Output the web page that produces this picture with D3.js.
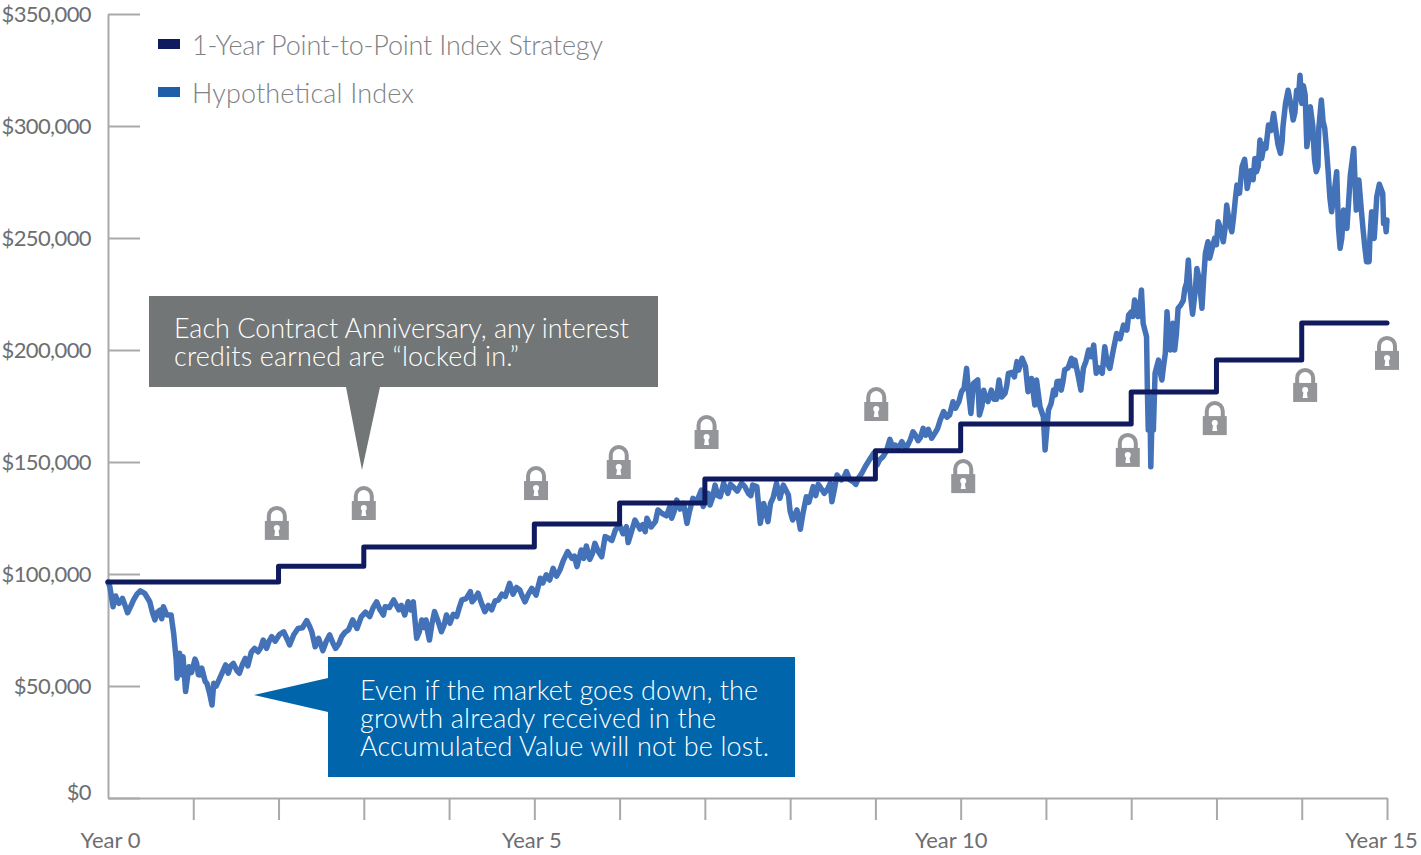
<!DOCTYPE html>
<html>
<head>
<meta charset="utf-8">
<script src="https://cdn.jsdelivr.net/npm/d3@7"></script>
<style>
  html, body { margin: 0; padding: 0; background: #fff; overflow: hidden; }
  text { font-family: Lato, "Open Sans", sans-serif; font-weight: 300; }
  .axis path, .axis line { stroke: #a7a9ac; stroke-width: 2; }
  .axis text { fill: #6d6e71; font-size: 22px; font-weight: 400; }
  .y-axis text { letter-spacing: -0.6px; }
</style>
</head>
<body>
<div id="chart"></div>
<script>
// all money values in thousands of dollars
var yTicks = [0, 50, 100, 150, 200, 250, 300, 350];
var xTicks = d3.range(0, 16);
var xLabels = { 0: "Year 0", 5: "Year 5", 10: "Year 10", 15: "Year 15" };

var stepYears  = [0, 2, 3, 5, 6, 7, 9, 10, 12, 13, 14, 15];
var stepValues = [96.4, 103.5, 112, 122.3, 131.7, 142.4, 155, 167, 181.3, 195.5, 212, 212];

// year by year
var indexYears = [
  0, .02, .06, .09, .13, .17, .23, .30, .38, .43, .49, .55, .61, .65, .69, .74, .77,
  .80, .81, .84, .86, .88, .91, .95, 1.04, 1.08, 1.12, 1.16, 1.22, 1.24, 1.31, 1.38, 1.41, 1.47, 1.54, 1.61, 1.72, 1.76, 1.82, 1.86, 1.92,
  2.06, 2.13, 2.23, 2.33, 2.39, 2.43, 2.47, 2.52, 2.60, 2.67, 2.74, 2.87, 2.92, 2.97,
  3.15, 3.23, 3.25, 3.35, 3.48, 3.52, 3.58, 3.62, 3.68, 3.73, 3.77, 3.83, 3.91, 3.97,
  4.01, 4.15, 4.25, 4.27, 4.34, 4.42, 4.58, 4.71, 4.83, 4.89, 4.97,
  5.02, 5.07, 5.14, 5.18, 5.22, 5.30, 5.39, 5.44, 5.50, 5.55, 5.61, 5.65, 5.71, 5.79, 5.83, 5.95,
  6.00, 6.08, 6.10, 6.18, 6.30, 6.32, 6.42, 6.45, 6.59, 6.61, 6.67, 6.75, 6.79, 6.86, 6.96, 6.98,
  7.02, 7.06, 7.12, 7.18, 7.22, 7.33, 7.43, 7.51, 7.56, 7.61, 7.65, 7.69, 7.74, 7.77, 7.84, 7.88, 7.92, 7.98,
  8.03, 8.08, 8.12, 8.19, 8.27, 8.35, 8.40, 8.47, 8.49, 8.55, 8.66, 8.74, 8.80, 8.84, 8.88, 8.94, 8.98,
  9.02, 9.09, 9.17, 9.23, 9.31, 9.37, 9.44, 9.50, 9.56, 9.62, 9.66, 9.76, 9.80, 9.87, 9.91,
  10.01, 10.07, 10.09, 10.12, 10.15, 10.20, 10.22, 10.29, 10.36, 10.42, 10.45, 10.52, 10.56, 10.66, 10.70, 10.72, 10.76, 10.79, 10.83, 10.87, 10.89, 10.93, 10.97, 10.99,
  11.03, 11.09, 11.13, 11.18, 11.22, 11.30, 11.34, 11.38, 11.41, 11.50, 11.56, 11.59, 11.66, 11.69, 11.75, 11.83, 11.91, 11.95, 11.97,
  12.04, 12.08, 12.12, 12.14, 12.18, 12.19, 12.20, 12.22, 12.23, 12.25, 12.26, 12.28, 12.32, 12.36, 12.40, 12.42, 12.46, 12.49, 12.51, 12.55, 12.63, 12.67, 12.69, 12.72, 12.77, 12.81, 12.83, 12.87, 12.90, 12.94,
  13.02, 13.08, 13.12, 13.18, 13.22, 13.24, 13.30, 13.33, 13.36, 13.45, 13.47, 13.51, 13.53, 13.61, 13.67, 13.70, 13.75, 13.78, 13.81, 13.84, 13.90, 13.94, 13.98,
  14.00, 14.04, 14.06, 14.10, 14.17, 14.20, 14.23, 14.27, 14.31, 14.35, 14.41, 14.45, 14.49, 14.53, 14.57, 14.61, 14.64, 14.67, 14.72, 14.76, 14.79, 14.82, 14.85, 14.88, 14.91, 14.95, 14.96, 14.99, 15
];
var indexValues = [
  96.4, 94.6, 85.4, 90.2, 86.9, 89.1, 82.7, 88.4, 92.5, 91.4, 87.6, 79.5, 83.9, 85.4, 81.7, 81.7, 73.5,
  61.6, 53.5, 64.6, 55, 63.1, 47.5, 58.6, 60.1, 54.9, 54.9, 51.2, 41.5, 51.2, 53.4, 59.4, 55.7, 60.1, 55.7, 62.3, 66.8, 65.3, 70.5, 66.8, 72,
  74.2, 68.3, 75.7, 79.2, 74.2, 67.5, 71.3, 65.8, 72.8, 66.8, 72, 79.5, 75.7, 80.9,
  87.6, 81.7, 85.4, 88.4, 81.7, 87.6, 87.6, 71.3, 79.5, 79.5, 70.5, 83.2, 74.2, 81.7,
  78, 88.4, 92.1, 87.6, 91.4, 83.2, 88.4, 95.8, 92.9, 87.6, 93.6,
  90.6, 98.1, 99.6, 97.3, 102.5, 101.8, 110, 107, 103.3, 110.7, 112.5, 106.5, 113.7, 107.7, 116.7, 119.6,
  121.9, 121.1, 114, 124.1, 118.9, 124.9, 123.4, 128.6, 130.1, 124.9, 133, 131.5, 122.6, 133.8, 137.5, 130.1,
  133, 130.8, 139.7, 134.5, 140.5, 139, 140.5, 136, 139.7, 139, 122.6, 131.5, 123.4, 131.5, 140.5, 133.8, 139.7, 135.3,
  124.1, 128.6, 120, 134.5, 139, 139, 136, 140.5, 132.3, 144.2, 145.7, 141.2, 142.7, 145, 147.9, 151.6, 153.9,
  148.7, 152.4, 160.1, 157.6, 159.1, 156.8, 163.5, 159.5, 165, 164.6, 160.6, 168.7, 172.5, 171, 176.9,
  181.4, 191.8, 182.1, 171.7, 185.1, 186.6, 171, 179.2, 182.1, 178, 186.6, 180.6, 189.6, 194.8, 193.3, 196.3, 192.6, 181.4, 187.3, 175.4, 186.6, 174.7, 170.2, 155.4,
  173.2, 182.1, 185.9, 182.1, 191.1, 196.3, 195.5, 188.1, 182.1, 200, 202.2, 189.6, 189.6, 201.5, 191.8, 207.4, 211.1, 208.9, 215.6,
  222.3, 214.9, 226.8, 211.9, 205.9, 182.1, 164.3, 174.7, 147.9, 179.2, 164.3, 189.6, 195.5, 186.6, 198.5, 217.1, 200, 211.9, 200, 218.6, 227.5, 240.2, 226.8, 216, 236.4, 226.8, 218.6, 243.1, 248.3, 243.9,
  257.3, 248.3, 264.7, 252.8, 266.9, 273.6, 281.8, 285.1, 272.1, 285.5, 279.6, 293.7, 285.5, 300.4, 305.6, 297.4, 287.8, 299.7, 310.1, 316, 302.7, 316, 322.7,
  310.1, 313.8, 290.8, 308.6, 279.6, 298.9, 311.6, 298.9, 279.6, 261.7, 279.6, 245.4, 262.5, 254.3, 278.1, 290, 262.5, 275.9, 253.6, 239.4, 239.4, 261.7, 249.8, 268.4, 274, 269.9, 256.5, 252.8, 258
];

// second pass over the picture, the smaller wiggles between the points above
var detailYears = [
  .11, .20, .26, .34, .52, .58, .63, .98, 1.02, 1.06, 1.10, 1.14, 1.19, 1.27, 1.34, 1.44, 1.51, 1.58, 1.64, 1.68, 1.79, 1.84, 1.89, 1.96,
  2.01, 2.10, 2.18, 2.28, 2.36, 2.56, 2.64, 2.71, 2.78, 2.82, 3.02, 3.07, 3.11, 3.19, 3.30, 3.41, 3.44, 3.55, 3.65, 3.71, 3.75, 3.80, 3.87, 3.94,
  4.05, 4.09, 4.12, 4.20, 4.30, 4.38, 4.46, 4.50, 4.54, 4.62, 4.66, 4.75, 4.79, 4.86, 4.93,
  5.10, 5.26, 5.34, 5.47, 5.58, 5.68, 5.75, 5.87, 5.91, 6.04, 6.14, 6.24, 6.27, 6.37, 6.50, 6.55, 6.64, 6.71, 6.82, 6.90,
  7.04, 7.09, 7.15, 7.27, 7.30, 7.38, 7.47, 7.54, 7.80, 8.00, 8.15, 8.22, 8.30, 8.33, 8.44, 8.52, 8.60, 8.63, 8.70, 8.77,
  9.05, 9.13, 9.20, 9.27, 9.34, 9.41, 9.47, 9.53, 9.59, 9.70, 9.73, 9.84, 9.94, 9.98, 10.04,
  10.25, 10.27, 10.32, 10.39, 10.48, 10.54, 10.60, 10.63, 10.68,
  11.06, 11.11, 11.16, 11.20, 11.26, 11.32, 11.44, 11.47, 11.53, 11.62, 11.72, 11.79, 11.87, 12.00, 12.02, 12.06, 12.10,
  12.34, 12.38, 12.44, 12.53, 12.58, 12.61, 12.65, 12.75, 12.79, 12.85, 12.92, 12.98, 13.00, 13.05, 13.10, 13.15, 13.20, 13.27, 13.35, 13.40, 13.43, 13.49, 13.56, 13.58, 13.64, 13.72, 13.77, 13.87, 13.92, 13.96,
  14.02, 14.08, 14.13, 14.15, 14.19, 14.25, 14.29, 14.33, 14.38, 14.43, 14.47, 14.51, 14.55, 14.59, 14.63, 14.70, 14.74, 14.78, 14.80, 14.84, 14.87, 14.93, 14.98
];
var detailValues = [
  88, 86, 85, 91, 83, 83, 80, 56, 62, 55, 58, 52, 47, 50, 56, 59, 57, 60, 59, 65, 67, 69, 70, 70,
  73, 71, 73, 76, 77, 70, 69, 69, 74, 75, 83, 81, 85, 84, 85, 84, 86, 84, 74, 76, 74, 78, 79, 77,
  82, 81, 85, 89, 89, 87, 86, 84, 88, 91, 90, 91, 94, 90, 91,
  96, 99, 106, 108, 107, 109, 110, 116, 115, 118, 119, 120, 122, 121, 127, 126, 128, 129, 128, 132,
  136, 134, 135, 136, 140, 137, 139, 135, 134, 128, 127, 132, 135, 140, 138, 138, 142, 143, 142, 140,
  151, 155, 157, 156, 157, 160, 162, 161, 162, 163, 165, 170, 174, 177, 183,
  175, 182, 177, 178, 179, 184, 190, 188, 191,
  176, 180, 186, 186, 192, 193, 192, 195, 197, 192, 194, 200, 205, 217, 215, 220, 218,
  190, 193, 205, 207, 220, 222, 230, 226, 233, 232, 241, 250, 247, 254, 254, 257, 259, 270, 278, 280, 276, 282, 292, 290, 298, 292, 293, 310, 306, 312,
  318, 296, 300, 285, 282, 302, 290, 268, 270, 255, 250, 258, 266, 284, 270, 262, 246, 243, 250, 254, 262, 272, 257
];

var lockYears  = [1.98, 3.00, 5.02, 5.99, 7.02, 9.01, 10.03, 11.96, 12.98, 14.04, 15];
var lockValues = [122.8, 131.7, 140.6, 150, 163.4, 175.9, 143.7, 155.4, 169.6, 184.4, 198.7];

var legendNames = ["1-Year Point-to-Point Index Strategy", "Hypothetical Index"];
var legendColors = ["#0f1a5f", "#1f5ea8"];

var w = 1421, h = 855;

var x = d3.scaleLinear().domain([0, 15]).range([108, 1387]);
var y = d3.scaleLinear().domain([0, 350]).range([798, 14]);

var svg = d3.select("#chart").append("svg").attr("width", w).attr("height", h);

// axes
var yAxis = d3.axisLeft(y).tickValues(yTicks).tickSizeInner(-32).tickSizeOuter(0).tickPadding(17)
  .tickFormat(function(d) { return d == 0 ? "$0" : "$" + d + ",000"; });
var gy = svg.append("g").attr("class", "axis y-axis").attr("transform", "translate(108,0)").call(yAxis);
gy.selectAll("text").filter(function(d) { return d == 0; }).attr("y", -6).attr("dy", "0.32em");

var xAxis = d3.axisBottom(x).tickValues(xTicks).tickSizeInner(22).tickSizeOuter(0).tickPadding(12)
  .tickFormat(function(d) { return xLabels[d] || ""; });
var gx = svg.append("g").attr("class", "axis").attr("transform", "translate(0,798)").call(xAxis);
gx.selectAll("text").attr("dx", function(d) { return d == 0 ? 2 : d == 5 ? -3 : d == 10 ? -10 : d == 15 ? -6 : 0; });
gx.selectAll(".tick line").filter(function(d) { return d == 0; }).remove();

// index first, the step line sits on top of it
var indexPoints = d3.zip(indexYears, indexValues).concat(d3.zip(detailYears, detailValues))
  .sort(function(a, b) { return a[0] - b[0]; });
var indexLine = d3.line().x(function(d) { return x(d[0]); }).y(function(d) { return y(d[1]); });
svg.append("path").attr("d", indexLine(indexPoints))
  .attr("fill", "none").attr("stroke", "#4472b8").attr("stroke-width", 5.5)
  .attr("stroke-linejoin", "round").attr("stroke-linecap", "round");

var stepLine = d3.line().curve(d3.curveStepAfter).x(function(d) { return x(d); })
  .y(function(d, i) { return y(stepValues[i]); });
svg.append("path").attr("d", stepLine(stepYears))
  .attr("fill", "none").attr("stroke", "#101a5e").attr("stroke-width", 5)
  .attr("stroke-linejoin", "round").attr("stroke-linecap", "round");

// locks
var locks = svg.selectAll("g.lock").data(lockYears).enter().append("g")
  .attr("class", "lock")
  .attr("transform", function(d, i) { return "translate(" + x(d) + "," + y(lockValues[i]) + ")"; });
locks.append("path").attr("d", "M-8,0 V-7 A8,8 0 0 1 8,-7 V0")
  .attr("fill", "none").attr("stroke", "#939598").attr("stroke-width", 4);
locks.append("rect").attr("x", -12).attr("y", -2).attr("width", 24).attr("height", 19).attr("fill", "#939598");
locks.append("circle").attr("cy", 5).attr("r", 3).attr("fill", "#fff");
locks.append("path").attr("d", "M-1.5,6 L1.5,6 L2.5,13 L-2.5,13 Z").attr("fill", "#fff");

// legend
var legend = svg.selectAll("g.legend").data(legendNames).enter().append("g")
  .attr("class", "legend")
  .attr("transform", function(d, i) { return "translate(158," + (39 + i * 48) + ")"; });
legend.append("rect").attr("width", 22).attr("height", 10)
  .attr("fill", function(d, i) { return legendColors[i]; });
legend.append("text").attr("x", 34).attr("y", 16).text(function(d) { return d; })
  .attr("fill", "#808285").style("font-size", "27px")
  .attr("textLength", function(d, i) { return [411, 222][i]; }).attr("lengthAdjust", "spacing");

// callouts
svg.append("path").attr("d", "M149,296 H658 V387 H380 L362,470 L346,387 H149 Z").attr("fill", "#727676");
var grayLines = ["Each Contract Anniversary, any interest", "credits earned are \u201clocked in.\u201d"];
var grayLengths = [455, 345];
svg.selectAll("text.gray").data(grayLines).enter().append("text").attr("class", "gray")
  .attr("x", 174).attr("y", function(d, i) { return 338 + i * 28; })
  .attr("fill", "#fff").style("font-size", "27px").text(function(d) { return d; })
  .attr("textLength", function(d, i) { return grayLengths[i]; }).attr("lengthAdjust", "spacing");

svg.append("path").attr("d", "M328,657 H795 V777 H328 V712 L254,695 L328,678 Z").attr("fill", "#0065ab");
var blueLines = ["Even if the market goes down, the", "growth already received in the", "Accumulated Value will not be lost."];
var blueLengths = [398, 356, 409];
svg.selectAll("text.blue").data(blueLines).enter().append("text").attr("class", "blue")
  .attr("x", 360).attr("y", function(d, i) { return 700 + i * 28; })
  .attr("fill", "#fff").style("font-size", "27px").text(function(d) { return d; })
  .attr("textLength", function(d, i) { return blueLengths[i]; }).attr("lengthAdjust", "spacing");
</script>
</body>
</html>
